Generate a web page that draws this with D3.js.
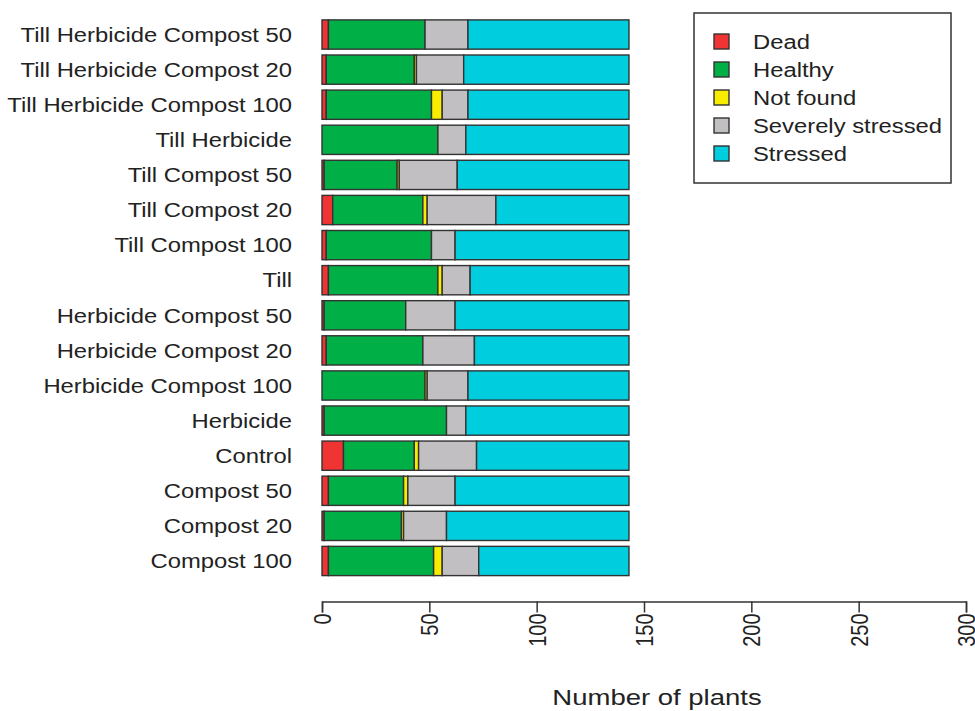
<!DOCTYPE html>
<html>
<head>
<meta charset="utf-8">
<script src="https://cdn.jsdelivr.net/npm/d3@7"></script>
<style>
  html, body { margin: 0; padding: 0; background: #fff; }
  svg { display: block; }
  text { font-family: "Liberation Sans", Arial, Helvetica, sans-serif; fill: #222; }
</style>
</head>
<body>
<svg id="chart" width="975" height="711"></svg>
<script>
// Plant condition counts per treatment (listed bottom to top as drawn)
const treatments = [
  "Compost 100", "Compost 20", "Compost 50", "Control", "Herbicide",
  "Herbicide Compost 100", "Herbicide Compost 20", "Herbicide Compost 50",
  "Till", "Till Compost 100", "Till Compost 20", "Till Compost 50",
  "Till Herbicide", "Till Herbicide Compost 100", "Till Herbicide Compost 20",
  "Till Herbicide Compost 50"
];
const statuses = ["Dead", "Healthy", "Not found", "Severely stressed", "Stressed"];
const statusColors = ["#f03333", "#00b046", "#f8ec00", "#c1bfc1", "#00cddd"];

const dead            = [3, 1, 3, 10, 1, 0, 2, 1, 3, 2, 5, 1, 0, 2, 2, 3];
const healthy         = [49, 36, 35, 33, 57, 48, 45, 38, 51, 49, 42, 34, 54, 49, 41, 45];
const notFound        = [4, 1, 2, 2, 0, 1, 0, 0, 2, 0, 2, 1, 0, 5, 1, 0];
const severelyStressed= [17, 20, 22, 27, 9, 19, 24, 23, 13, 11, 32, 27, 13, 12, 22, 20];
const stressed        = [70, 85, 81, 71, 76, 75, 72, 81, 74, 81, 62, 80, 76, 75, 77, 75];

const xTicks = [0, 50, 100, 150, 200, 250, 300];
const xTitle = "Number of plants";

// Build a table that d3.stack can consume
const series = [dead, healthy, notFound, severelyStressed, stressed];
const rows = treatments.map((t, i) => {
  const r = { treatment: t };
  statuses.forEach((s, k) => { r[s] = series[k][i]; });
  return r;
});
const stacked = d3.stack().keys(statuses)(rows);

const svg = d3.select("#chart");
const stretch = 1.19;   // glyphs are drawn a little wide

const x = d3.scaleLinear().domain([0, 300]).range([322, 966]);
const y = d3.scaleBand()
  .domain(treatments.slice().reverse())
  .range([19.9, 575.6])
  .paddingInner(0.2 / 1.2)
  .paddingOuter(0);
const color = d3.scaleOrdinal().domain(statuses).range(statusColors);

// Stacked bars
svg.append("g")
  .selectAll("g")
  .data(stacked)
  .join("g")
    .attr("fill", d => color(d.key))
  .selectAll("rect")
  .data(d => d)
  .join("rect")
    .attr("x", d => x(d[0]))
    .attr("width", d => x(d[1]) - x(d[0]))
    .attr("y", d => y(d.data.treatment))
    .attr("height", y.bandwidth())
    .attr("stroke", "#333")
    .attr("stroke-width", 1.4);

// Category labels
svg.append("g")
  .selectAll("text")
  .data(treatments)
  .join("text")
    .attr("transform", d => `translate(292,${y(d) + y.bandwidth() / 2}) scale(${stretch},1)`)
    .attr("text-anchor", "end")
    .attr("dy", "0.36em")
    .style("font-size", "20px")
    .text(d => d);

// Bottom axis
const axisY = 601.5;
const axis = d3.axisBottom(x)
  .tickValues(xTicks)
  .tickSizeOuter(0)
  .tickSize(11)
  .tickFormat(d3.format("d"));
const gx = svg.append("g")
  .attr("transform", `translate(0,${axisY})`)
  .call(axis);
gx.select(".domain").attr("stroke", "#333").attr("stroke-width", 1.5);
gx.selectAll(".tick line").attr("stroke", "#333").attr("stroke-width", 1.5);
gx.selectAll(".tick text")
  .attr("transform", `translate(0,12) scale(${stretch},1) rotate(-90)`)
  .attr("x", 0).attr("y", 0)
  .attr("dy", "0.36em")
  .attr("text-anchor", "end")
  .style("font-size", "20px")
  .style("fill", "#222");

svg.append("text")
  .attr("transform", `translate(${x(150) + 13},705) scale(1.25,1)`)
  .attr("text-anchor", "middle")
  .style("font-size", "22px")
  .text(xTitle);

// Legend
const legend = svg.append("g");
legend.append("rect")
  .attr("x", 694).attr("y", 13)
  .attr("width", 257).attr("height", 170)
  .attr("fill", "#fff")
  .attr("stroke", "#333")
  .attr("stroke-width", 1.5);
const item = legend.selectAll("g.item")
  .data(statuses)
  .join("g")
    .attr("class", "item")
    .attr("transform", (d, i) => `translate(714,${41.5 + i * 28})`);
item.append("rect")
  .attr("x", 0).attr("y", -7.5)
  .attr("width", 15).attr("height", 15)
  .attr("fill", d => color(d))
  .attr("stroke", "#333")
  .attr("stroke-width", 1.4);
item.append("text")
  .attr("transform", `translate(39,0) scale(${stretch},1)`)
  .attr("dy", "0.36em")
  .style("font-size", "20px")
  .text(d => d);
</script>
</body>
</html>
